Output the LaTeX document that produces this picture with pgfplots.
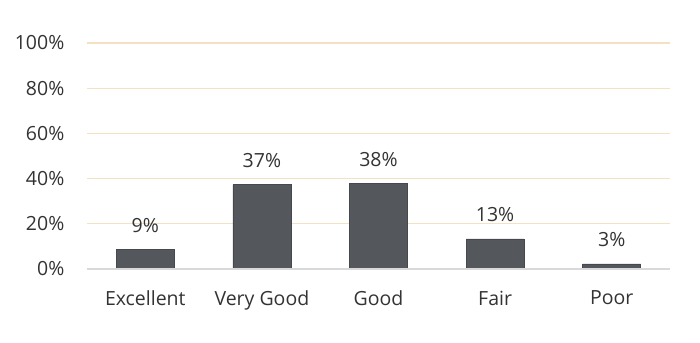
\documentclass[border=0pt]{standalone}
\usepackage{pgfplots}
\pgfplotsset{compat=1.18}
\usepackage{fontspec}
\setmainfont{Open Sans}
\definecolor{barc}{HTML}{54575B}
\definecolor{bard}{HTML}{45484C}
\definecolor{gridc}{HTML}{F3E2C2}
\definecolor{txt}{HTML}{333333}
\definecolor{axc}{HTML}{D9D9D9}
\begin{document}
\fontsize{19.5pt}{23pt}\selectfont
\begin{tikzpicture}
\begin{axis}[name=ax,
  scale only axis, width=583pt, height=226pt,
  xmin=-0.5, xmax=4.5, ymin=0, ymax=100,
  ytick={0,20,40,60,80,100},
  yticklabel={\pgfmathprintnumber{\tick}\%},
  /pgf/number format/assume math mode=true,
  xtick=data,
  xticklabels={Excellent,Very Good,Good,Fair,Poor},
  axis x line*=bottom, axis y line*=left,
  y axis line style={draw=none},
  x axis line style={draw=axc, line width=1.2pt, -},
  ymajorgrids, grid style={draw=gridc, line width=1.2pt},
  major tick length=0pt,
  tick label style={text=txt, font=\fontsize{19.5pt}{23pt}\selectfont},
  yticklabel style={xshift=-16pt},
  xticklabel style={yshift=-15pt},
  ybar, bar width=58pt,
  nodes near coords, point meta=explicit symbolic,
  nodes near coords style={anchor=center, yshift=24pt, text=txt, font=\fontsize{19.5pt}{23pt}\selectfont},
  clip=false,
]
\addplot[fill=barc, draw=bard, line width=0.6pt] coordinates {
  (0,8.8) [9\%]
  (1,37.3) [37\%]
  (2,37.8) [38\%]
  (3,13.3) [13\%]
  (4,2.3) [3\%]
};
\pgfplotsextra{\draw[draw=axc, line width=1.2pt] (axis cs:-0.5,0) -- (axis cs:4.5,0);}
\end{axis}
\pgfresetboundingbox
\path (ax.south west) ++(-87pt,-73pt) rectangle ++(700pt,342pt);
\end{tikzpicture}
\end{document}
